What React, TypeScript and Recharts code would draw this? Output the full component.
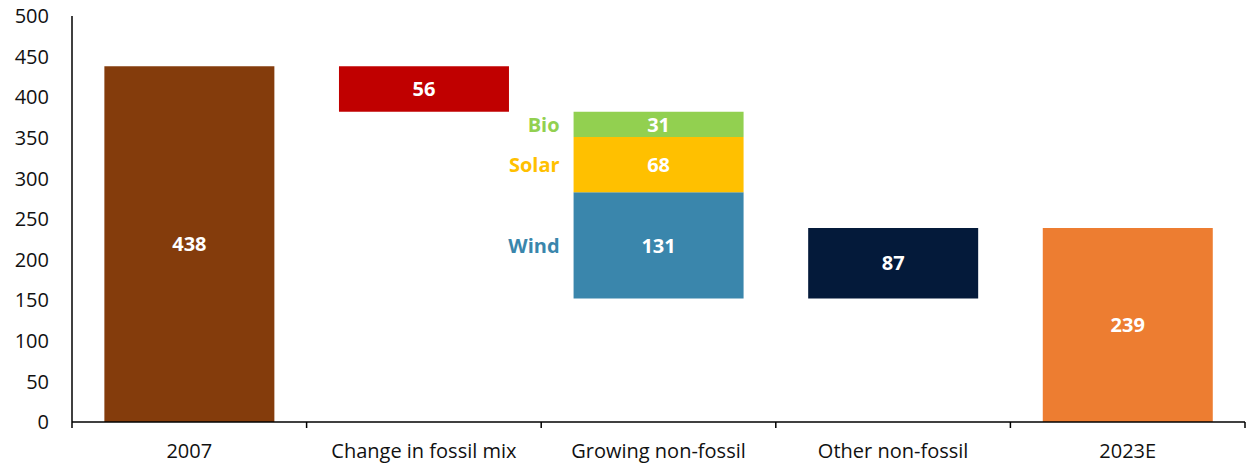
import React from 'react';
import { BarChart, Bar, XAxis, YAxis, Cell, LabelList } from 'recharts';

const categories = ['2007', 'Change in fossil mix', 'Growing non-fossil', 'Other non-fossil', '2023E'];
const baseValues = [0, 382, 152, 152, 0];
const mainValues = [438, 56, 0, 87, 239];
const windValues = [0, 0, 131, 0, 0];
const solarValues = [0, 0, 68, 0, 0];
const bioValues = [0, 0, 31, 0, 0];
const mainColors = ['#843C0C', '#C00000', '#FFFFFF', '#041A3A', '#ED7D31'];
const yTicks = [0, 50, 100, 150, 200, 250, 300, 350, 400, 450, 500];

const data = categories.map((name, i) => ({
  name,
  base: baseValues[i],
  main: mainValues[i],
  wind: windValues[i],
  solar: solarValues[i],
  bio: bioValues[i],
}));

const FONT = '"Open Sans", sans-serif';

const box = (p: any) => {
  const vb = p.viewBox || {};
  return {
    x: Number(p.x ?? vb.x),
    y: Number(p.y ?? vb.y),
    w: Number(p.width ?? vb.width),
    h: Number(p.height ?? vb.height),
  };
};

// category label plus tick marks on the band edges (Excel style)
const CategoryTick = (p: any) => {
  const { x, y, payload, index } = p;
  const half = Number(payload?.offset) || 0;
  const axisY = y - 22;
  return (
    <g>
      <line x1={x - half} x2={x - half} y1={axisY} y2={axisY + 6} stroke="#000" strokeWidth={1.5} />
      {index === categories.length - 1 && (
        <line x1={x + half} x2={x + half} y1={axisY} y2={axisY + 6} stroke="#000" strokeWidth={1.5} />
      )}
      <text x={x} y={y} dy="0.71em" textAnchor="middle" fill="#111" fontSize={20} fontFamily={FONT}>
        {payload.value}
      </text>
    </g>
  );
};

// white bold value in the middle of a segment
const valueLabel = (p: any) => {
  if (!p.value) return null;
  const { x, y, w, h } = box(p);
  return (
    <text x={x + w / 2} y={y + h / 2} dy="0.36em" textAnchor="middle" fill="#fff"
      fontFamily={FONT} fontWeight={700} fontSize={20}>
      {p.value}
    </text>
  );
};

// coloured series name to the left of a segment
const nameLabel = (title: string, color: string) => (p: any) => {
  if (!p.value) return null;
  const { x, y, h } = box(p);
  return (
    <text x={x - 14} y={y + h / 2} dy="0.36em" textAnchor="end" fill={color}
      fontFamily={FONT} fontWeight={700} fontSize={20}>
      {title}
    </text>
  );
};

export default function App() {
  return (
    <div style={{ position: 'absolute', left: 0, top: 0, background: '#fff' }}>
      <BarChart width={1251} height={464} data={data}
        margin={{ top: 16, right: 6, bottom: 0, left: 0 }} barCategoryGap="13.8%">
        <XAxis dataKey="name" height={42} interval={0} tickLine={false} tickSize={0} tickMargin={22}
          axisLine={{ stroke: '#000', strokeWidth: 1.5 }} tick={<CategoryTick />} />
        <YAxis domain={[0, 500]} ticks={yTicks} width={72} tickLine={false} tickSize={0}
          tickMargin={23} axisLine={{ stroke: '#000', strokeWidth: 1.5 }}
          tick={{ fill: '#111', fontSize: 20, fontFamily: FONT }} />
        <Bar dataKey="base" stackId="w" fill="transparent" isAnimationActive={false} />
        <Bar dataKey="main" stackId="w" isAnimationActive={false}>
          {data.map((d, i) => <Cell key={d.name} fill={mainColors[i]} />)}
          <LabelList dataKey="main" content={valueLabel} />
        </Bar>
        <Bar dataKey="wind" stackId="w" fill="#3A86AC" isAnimationActive={false}>
          <LabelList dataKey="wind" content={valueLabel} />
          <LabelList dataKey="wind" content={nameLabel('Wind', '#3A86AC')} />
        </Bar>
        <Bar dataKey="solar" stackId="w" fill="#FFC000" isAnimationActive={false}>
          <LabelList dataKey="solar" content={valueLabel} />
          <LabelList dataKey="solar" content={nameLabel('Solar', '#FFC000')} />
        </Bar>
        <Bar dataKey="bio" stackId="w" fill="#92D050" isAnimationActive={false}>
          <LabelList dataKey="bio" content={valueLabel} />
          <LabelList dataKey="bio" content={nameLabel('Bio', '#92D050')} />
        </Bar>
      </BarChart>
    </div>
  );
}
